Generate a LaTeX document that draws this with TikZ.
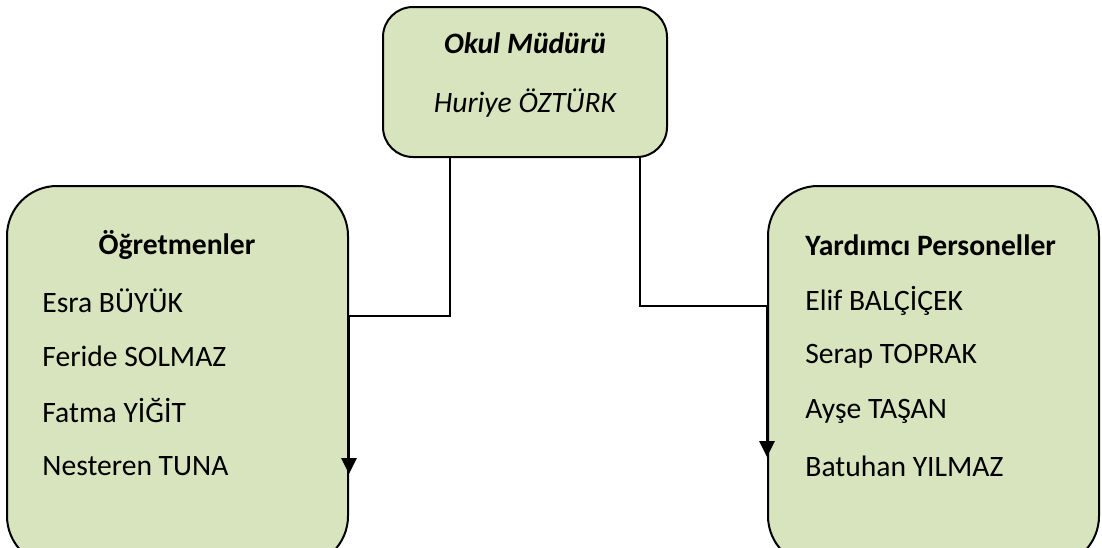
\documentclass[tikz,border=0pt]{standalone}
\usepackage{fontspec}
\setmainfont{Carlito}
\usetikzlibrary{arrows.meta}

\definecolor{boxgreen}{HTML}{D7E4BD}

\begin{document}
\begin{tikzpicture}[x=0.5pt,y=-0.5pt,
  box/.style={draw=black, line width=1pt, fill=boxgreen, inner sep=0pt},
  label/.style={font=\fontsize{14.8}{17}\selectfont, inner sep=0pt},
  conn/.style={line width=1.4pt, -{Triangle[length=8pt,width=7.5pt]}}]
\useasboundingbox (0,0) rectangle (1102,547);
% Okul Mudur kutusu
\node[box, rounded corners=15pt, minimum width=142pt, minimum height=75pt] (mudur) at (525,82) {};
\node[label, font=\fontsize{14.8}{17}\selectfont\bfseries\itshape] (unvan) at (525,43) {Okul Müdürü};
\node[label, font=\fontsize{14.8}{17}\selectfont\itshape] (ad) at (525,103) {Huriye ÖZTÜRK};
% Ogretmenler
\node[box, rounded corners=25pt, minimum width=170.5pt, minimum height=190pt] (ogr) at (177.5,376) {};
\node[label, font=\fontsize{14.8}{17}\selectfont\bfseries] (ogrbaslik) at (177,245) {Öğretmenler};
\node[label, anchor=west] (o1) at (42,301) {Esra BÜYÜK};
\node[label, anchor=west] (o2) at (42,356) {Feride SOLMAZ};
\node[label, anchor=west] (o3) at (42,411) {Fatma YİĞİT};
\node[label, anchor=west] (o4) at (42,466) {Nesteren TUNA};
% Yardimci personeller
\node[box, rounded corners=25pt, minimum width=165.5pt, minimum height=190pt] (yrd) at (933.5,376) {};
\node[label, font=\fontsize{14.8}{17}\selectfont\bfseries, anchor=west] (yrdbaslik) at (805,245) {Yardımcı Personeller};
\node[label, anchor=west] (y1) at (805,301) {Elif BALÇİÇEK};
\node[label, anchor=west] (y2) at (805,356) {Serap TOPRAK};
\node[label, anchor=west] (y3) at (805,411) {Ayşe TAŞAN};
\node[label, anchor=west] (y4) at (805,466) {Batuhan YILMAZ};
% baglantilar
\draw[conn] (mudur.south -| 450,0) |- (ogr.east |- 0,316) -- (ogr.east |- 0,474);
\draw[conn] (mudur.south -| 640,0) |- (yrd.west |- 0,306) -- (yrd.west |- 0,457);
\end{tikzpicture}
\end{document}
